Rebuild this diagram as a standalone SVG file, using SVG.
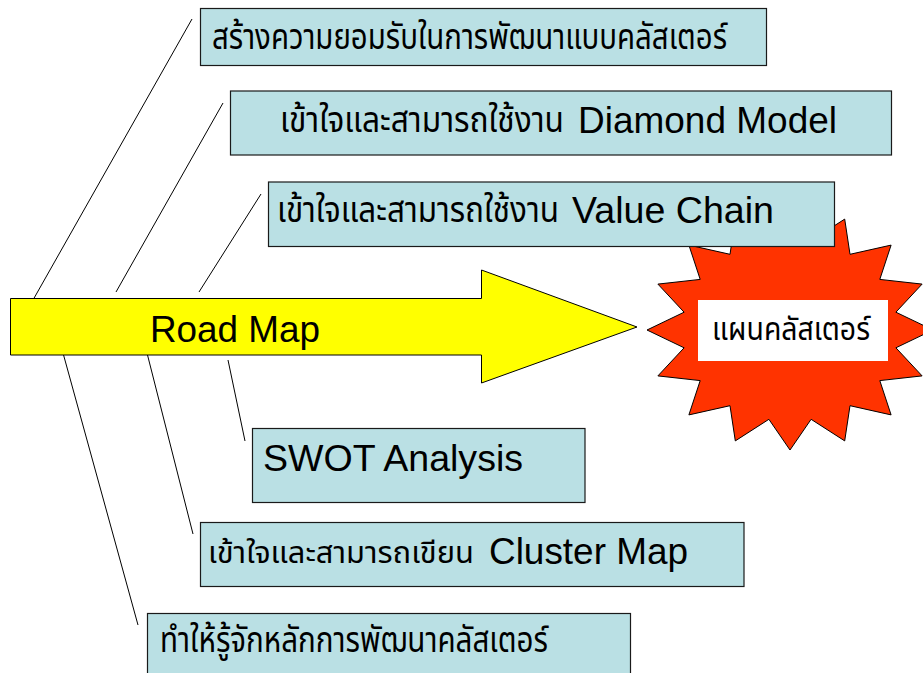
<svg xmlns="http://www.w3.org/2000/svg" width="923" height="673" viewBox="0 0 923 673">
<style>
.box{fill:#BAE0E4;stroke:#1a1a1a;stroke-width:1.2}
.ln{stroke:#000;stroke-width:1;fill:none}
.th{font-family:"Noto Sans Thai","Noto Serif Thai","Loma","Garuda","Norasi","DejaVu Sans",sans-serif;font-size:35px;fill:#000}
.en{font-family:"Liberation Sans",Arial,sans-serif;font-size:37px;fill:#000}
</style>
<rect width="923" height="673" fill="#fff"/>
<g id="connectors">
<line class="ln" x1="33" y1="300" x2="192" y2="19"/>
<line class="ln" x1="116" y1="292" x2="223" y2="103"/>
<line class="ln" x1="199" y1="292" x2="261" y2="194"/>
<line class="ln" x1="63" y1="353" x2="138" y2="625"/>
<line class="ln" x1="147" y1="353" x2="193" y2="534"/>
<line class="ln" x1="228" y1="360" x2="245" y2="441"/>
</g>
<g id="roadmap">
<polygon points="10.5,298.5 481.5,298.5 481.5,270 637,327 481.5,383 481.5,355 10.5,355" fill="#FFFF00" stroke="#000" stroke-width="1"/>
<text class="en" x="150" y="341.5" textLength="170" lengthAdjust="spacingAndGlyphs">Road Map</text>
</g>
<g id="plan">
<polygon fill="#FF3300" stroke="#000" stroke-width="1" points="933,330 895.9,312.2 922.1,284.1 879.8,279.4 891.1,245.1 850,254.3 844.7,219.1 811.1,240.7 790,210 768.9,240.7 735.3,219.1 730,254.3 688.9,245.1 700.2,279.4 657.9,284.1 684.1,312.2 647,330 684.1,347.8 657.9,375.9 700.2,380.6 688.9,414.9 730,405.7 735.3,440.9 768.9,419.3 790,450 811.1,419.3 844.7,440.9 850,405.7 891.1,414.9 879.8,380.6 922.1,375.9 895.9,347.8"/>
<rect x="698" y="300" width="190" height="61" fill="#fff"/>
<text class="th" x="712" y="340" style="font-size:32px" textLength="158" lengthAdjust="spacingAndGlyphs">แผนคลัสเตอร์</text>
</g>
<g id="box1">
<rect class="box" x="200.5" y="8.5" width="566" height="57"/>
<text class="th" x="212" y="49" textLength="515" lengthAdjust="spacingAndGlyphs">สร้างความยอมรับในการพัฒนาแบบคลัสเตอร์</text>
</g>
<g id="box2">
<rect class="box" x="230.5" y="91" width="661" height="64"/>
<text y="133"><tspan class="th" x="280" y="132" textLength="284" lengthAdjust="spacingAndGlyphs">เข้าใจและสามารถใช้งาน</tspan><tspan class="en" x="578" y="133" textLength="259" lengthAdjust="spacingAndGlyphs">Diamond Model</tspan></text>
</g>
<g id="box3">
<rect class="box" x="268.5" y="182" width="566" height="64.5"/>
<text y="223"><tspan class="th" x="277" y="222" textLength="282" lengthAdjust="spacingAndGlyphs">เข้าใจและสามารถใช้งาน</tspan><tspan class="en" x="572" y="223" textLength="202" lengthAdjust="spacingAndGlyphs">Value Chain</tspan></text>
</g>
<g id="box4">
<rect class="box" x="252.5" y="428.5" width="332.5" height="74"/>
<text class="en" x="263" y="471" textLength="260" lengthAdjust="spacingAndGlyphs">SWOT Analysis</text>
</g>
<g id="box5">
<rect class="box" x="200.5" y="522.5" width="543.5" height="64"/>
<text y="564"><tspan class="th" x="208" y="563" style="font-size:31px" textLength="266" lengthAdjust="spacingAndGlyphs">เข้าใจและสามารถเขียน</tspan><tspan class="en" x="489" y="564" textLength="199" lengthAdjust="spacingAndGlyphs">Cluster Map</tspan></text>
</g>
<g id="box6">
<rect class="box" x="147.5" y="613.5" width="483" height="70"/>
<text class="th" x="160" y="652" textLength="388" lengthAdjust="spacingAndGlyphs">ทำให้รู้จักหลักการพัฒนาคลัสเตอร์</text>
</g>
</svg>
